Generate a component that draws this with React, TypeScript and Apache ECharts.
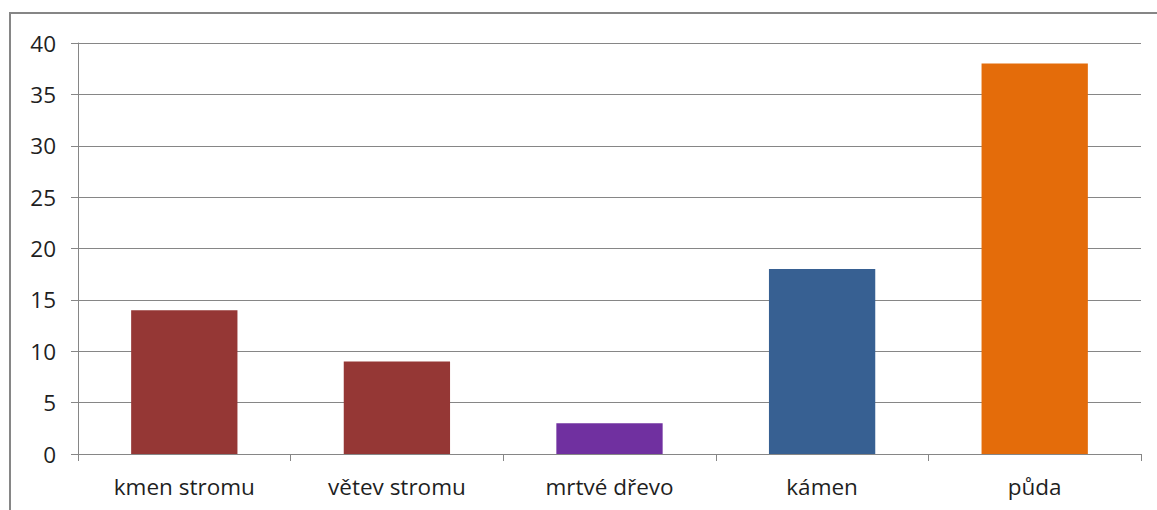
import React, { useEffect, useRef } from "react";
import * as echarts from "echarts";

const categories = ["kmen stromu", "větev stromu", "mrtvé dřevo", "kámen", "půda"];
const values = [14, 9, 3, 18, 38];
const barColors = ["#953735", "#953735", "#7030A0", "#376092", "#E46C0A"];
const yTicks = { min: 0, max: 40, interval: 5 };

export default function App() {
  const ref = useRef<HTMLDivElement>(null);
  useEffect(() => {
    document.body.style.margin = "0";
    const chart = echarts.init(ref.current!, undefined, { renderer: "svg" });
    const font = "'Open Sans', 'Noto Sans', sans-serif";
    chart.setOption({
      animation: false,
      backgroundColor: "#ffffff",
      graphic: [
        {
          type: "rect",
          shape: { x: 10, y: 13, width: 1200, height: 600 },
          style: { fill: "none", stroke: "#868686", lineWidth: 2 },
          silent: true,
        },
      ],
      grid: { left: 78, right: 16, top: 43, bottom: 56 },
      xAxis: {
        type: "category",
        data: categories,
        axisLine: { lineStyle: { color: "#868686", width: 1 } },
        axisTick: { show: true, length: 7, alignWithLabel: false, lineStyle: { color: "#868686" } },
        axisLabel: { color: "#1f1f1f", fontSize: 22.5, fontFamily: font, margin: 21 },
        splitLine: { show: false },
      },
      yAxis: {
        type: "value",
        min: yTicks.min,
        max: yTicks.max,
        interval: yTicks.interval,
        axisLine: { show: true, lineStyle: { color: "#868686", width: 1 } },
        axisTick: { show: true, length: 7, lineStyle: { color: "#868686" } },
        axisLabel: { color: "#1f1f1f", fontSize: 22.5, fontFamily: font, margin: 22 },
        splitLine: { show: true, lineStyle: { color: "#868686", width: 1 } },
      },
      series: [
        {
          type: "bar",
          barWidth: "50%",
          data: values.map((v, i) => ({ value: v, itemStyle: { color: barColors[i] } })),
        },
      ],
    });
    return () => chart.dispose();
  }, []);
  return <div ref={ref} style={{ width: 1157, height: 510 }} />;
}
